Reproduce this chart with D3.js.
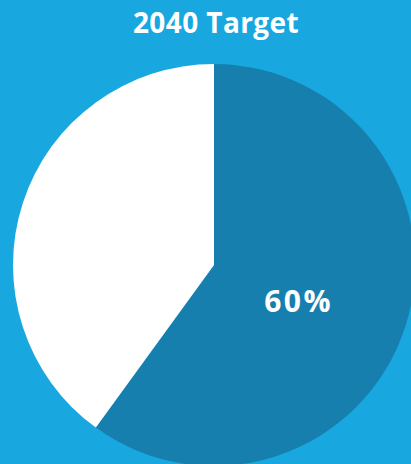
<!DOCTYPE html>
<html>
<head>
<meta charset="utf-8">
<script src="https://cdn.jsdelivr.net/npm/d3@7"></script>
<style>
  html, body { margin: 0; padding: 0; background: #19a7df; overflow: hidden; }
  svg { display: block; }
</style>
</head>
<body>
<svg id="chart" width="411" height="464"></svg>
<script>
// Share of the 2040 target reached vs. remaining
const categories = ["Target", "Remaining"];
const values = [60, 40];
const colors = ["#167fae", "#ffffff"];
const title = "2040 Target";

const width = 411, height = 464;
const cx = 214, cy = 265, radius = 201;

const svg = d3.select("#chart");
svg.append("rect").attr("width", width).attr("height", height).attr("fill", "#19a7df");

svg.append("text")
  .attr("x", 216).attr("y", 33)
  .attr("text-anchor", "middle")
  .attr("font-family", "'Open Sans', sans-serif")
  .attr("font-weight", 700)
  .attr("font-size", 28)
  .attr("letter-spacing", 0.4)
  .attr("fill", "#ffffff")
  .text(title);

const pie = d3.pie().sort(null).value(d => d)(values);
const arc = d3.arc().innerRadius(0).outerRadius(radius);
const labelArc = d3.arc().innerRadius(0).outerRadius(180);

const g = svg.append("g").attr("transform", `translate(${cx},${cy})`);
g.selectAll("path").data(pie).join("path")
  .attr("d", arc)
  .attr("fill", (d, i) => colors[i]);

g.append("text")
  .datum(pie[0])
  .attr("transform", d => `translate(${labelArc.centroid(d)})`)
  .attr("dx", -1)
  .attr("dy", 19)
  .attr("text-anchor", "middle")
  .attr("font-family", "'Open Sans', sans-serif")
  .attr("font-weight", 700)
  .attr("font-size", 30)
  .attr("letter-spacing", 2.5)
  .attr("fill", "#ffffff")
  .text(d => d.data + "%");
</script>
</body>
</html>
